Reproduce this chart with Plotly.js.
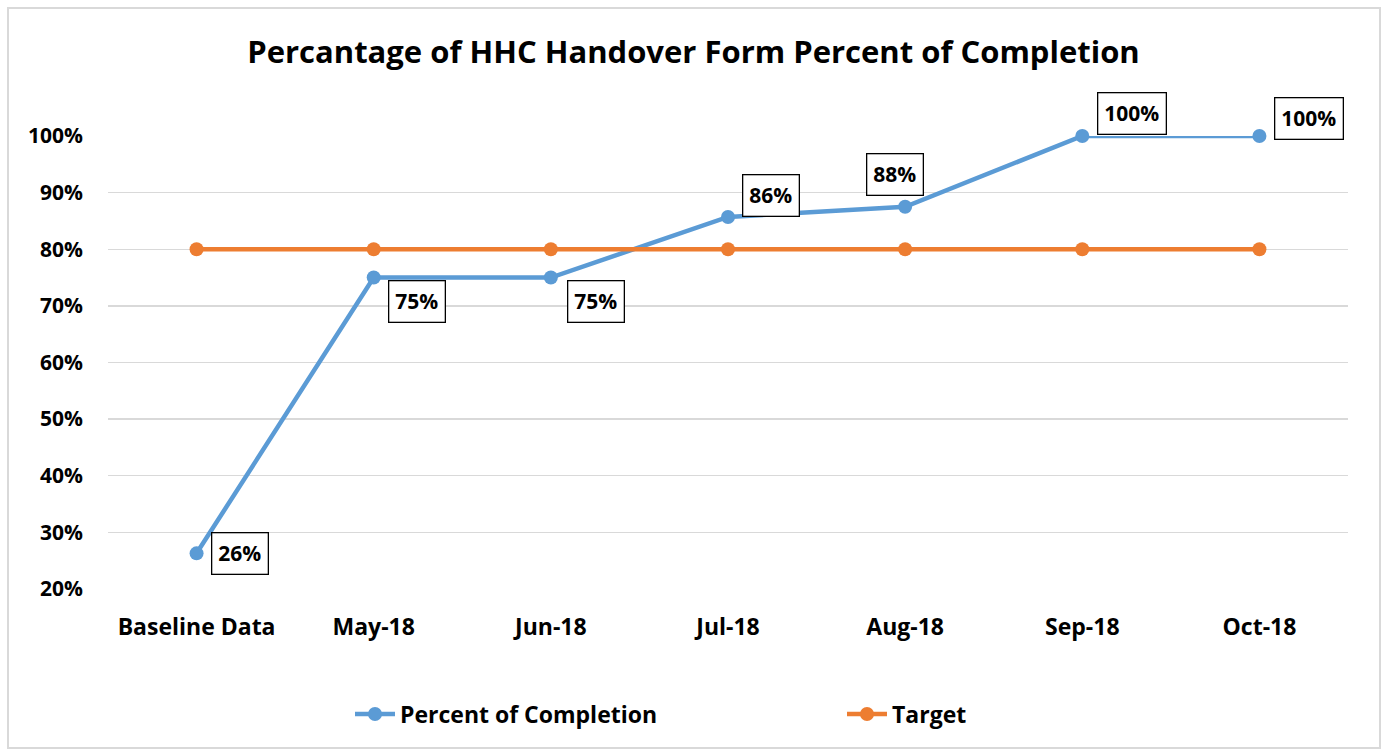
<!DOCTYPE html>
<html>
<head>
<meta charset="utf-8">
<script src="https://cdn.plot.ly/plotly-3.0.1.min.js"></script>
<style>
html,body{margin:0;padding:0;background:#fff;}
#chart{width:1387px;height:755px;}
</style>
</head>
<body>
<div id="chart"></div>
<script>
const categories = ["Baseline Data","May-18","Jun-18","Jul-18","Aug-18","Sep-18","Oct-18"];
const completion = [0.263, 0.75, 0.75, 0.857, 0.875, 1.0, 1.0];
const target = [0.8, 0.8, 0.8, 0.8, 0.8, 0.8, 0.8];
const yTickVals = [0.2,0.3,0.4,0.5,0.6,0.7,0.8,0.9,1.0];
const yTickText = ["20%","30%","40%","50%","60%","70%","80%","90%","100%"];

// label offsets (pixels) for the data-label boxes
const labelShiftX = [43, 43, 45, 43, -10, 50, 50];
const labelShiftY = [0, -24, -24, 21, 32, 23, 18];

const FONT = "Open Sans";
const blue = "#5B9BD5", orange = "#ED7D31";

const W = 1387, H = 755;
const mL = 108, mR = 39, mT = 136, mB = 166;
const pw = W - mL - mR, ph = H - mT - mB;
const px = v => (v - mL) / pw;
const py = v => 1 - (v - mT) / ph;

const traces = [
  {x: categories, y: completion, type: "scatter", mode: "lines+markers", name: "Percent of Completion",
   line: {color: blue, width: 4.5}, marker: {color: blue, size: 14}, cliponaxis: false},
  {x: categories, y: target, type: "scatter", mode: "lines+markers", name: "Target",
   line: {color: orange, width: 4.5}, marker: {color: orange, size: 14}, cliponaxis: false}
];

const annotations = completion.map((v, i) => ({
  x: categories[i], y: v, xref: "x", yref: "y",
  text: Math.round(v * 100) + "%", showarrow: false,
  xshift: labelShiftX[i], yshift: labelShiftY[i],
  font: {family: FONT, size: 21, color: "#000", weight: "bold"},
  bgcolor: "#fff", bordercolor: "#000", borderwidth: 1.3, borderpad: 6
}));

const layout = {
  width: W, height: H,
  margin: {l: mL, r: mR, t: mT, b: mB, pad: 0},
  paper_bgcolor: "#fff", plot_bgcolor: "#fff",
  title: {text: "<b>Percantage of HHC Handover Form Percent of Completion</b>",
          font: {family: FONT, size: 31, color: "#000"},
          x: 0.5, xref: "container", xanchor: "center", y: 1 - 52 / H, yanchor: "middle"},
  xaxis: {type: "category", range: [-0.5, 6.5], showgrid: false, zeroline: false,
          showline: false, ticks: "", ticklabelstandoff: 22,
          tickfont: {family: FONT, size: 23, color: "#000", weight: "bold"},
          fixedrange: true},
  yaxis: {range: [0.2, 1.0], tickvals: yTickVals, ticktext: yTickText, showgrid: true,
          gridcolor: "#d9d9d9", gridwidth: 1.3, zeroline: false, showline: false, ticks: "",
          ticklabelstandoff: 24,
          tickfont: {family: FONT, size: 21, color: "#000", weight: "bold"}, fixedrange: true},
  showlegend: true,
  legend: {orientation: "h", x: px(350), xanchor: "left", y: py(714), yanchor: "middle",
           font: {family: FONT, size: 23, color: "#000", weight: "bold"},
           entrywidth: 437, itemwidth: 40, bgcolor: "rgba(0,0,0,0)"},
  annotations: annotations,
  shapes: [{type: "rect", xref: "paper", yref: "paper",
            x0: px(8), x1: px(1380), y0: py(748), y1: py(8),
            line: {color: "#d9d9d9", width: 2}, fillcolor: "rgba(0,0,0,0)", layer: "below"}]
};

Plotly.newPlot("chart", traces, layout, {displayModeBar: false, staticPlot: true});
</script>
</body>
</html>
